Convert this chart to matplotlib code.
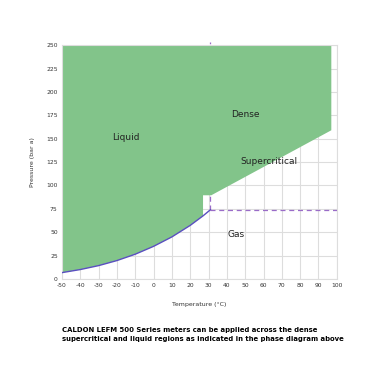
import matplotlib.pyplot as plt

plt.rcParams['axes.unicode_minus'] = False

# CO2 saturation curve (temperature degC, pressure bar a)
sat_temp = [-50, -40, -30, -20, -10, 0, 10, 20, 27, 31]
sat_pres = [6.8, 10.1, 14.3, 19.7, 26.5, 34.9, 45.0, 57.3, 67.5, 74.0]

# outline of the dense / liquid region beyond the curve
edge_temp = [27, 27, 31.5, 97, 97, -50]
edge_pres = [67.5, 89.5, 89.5, 159, 250, 250]

crit_temp = 31
crit_pres = 74

region_names = ["Liquid", "Dense", "Supercritical", "Gas"]
region_temp = [-15, 50, 63, 45]
region_pres = [151, 176, 126, 48]

green = "#82c48a"
purple = "#9a6cc8"

fig = plt.figure(figsize=(3.73, 3.73), dpi=100)
ax = fig.add_axes([0.166, 0.252, 0.737, 0.627])

# green region: along saturation curve then round the outline
poly_t = sat_temp[:-1] + edge_temp
poly_p = sat_pres[:-1] + edge_pres
ax.fill(poly_t, poly_p, color=green, lw=0, zorder=2)

# saturation line and critical dashes
ax.plot(sat_temp, sat_pres, color="#5a4fc0", lw=1.0, zorder=3)
ax.plot([crit_temp, 100], [crit_pres, crit_pres], color=purple, lw=0.9, ls=(0, (4, 3)), zorder=3)
ax.plot([crit_temp, crit_temp], [crit_pres, 253], color=purple, lw=0.9, ls=(0, (4, 3)), zorder=1, clip_on=False)

for name, t, p in zip(region_names, region_temp, region_pres):
    ax.text(t, p, name, fontsize=6.5, ha="center", va="center", color="#222222", zorder=4)

ax.set_xlim(-50, 100)
ax.set_ylim(0, 250)
ax.set_xticks(range(-50, 101, 10))
ax.set_yticks(range(0, 251, 25))
ax.grid(True, color="#dddddd", lw=0.8, zorder=0)
ax.set_axisbelow(True)
for s in ax.spines.values():
    s.set_color("#dddddd")
ax.tick_params(length=0, labelsize=4.3, pad=3, colors="#333333")
ax.set_xlabel("Temperature (°C)", fontsize=4.5, labelpad=10, color="#333333")
ax.set_ylabel("Pressure (bar a)", fontsize=4.5, labelpad=8, color="#333333")

fig.text(0.167, 0.103,
         "CALDON LEFM 500 Series meters can be applied across the dense\n"
         "supercritical and liquid regions as indicated in the phase diagram above",
         fontsize=4.95, fontweight="bold", ha="left", va="center", linespacing=1.55)

fig.savefig("out.png", dpi=100)
